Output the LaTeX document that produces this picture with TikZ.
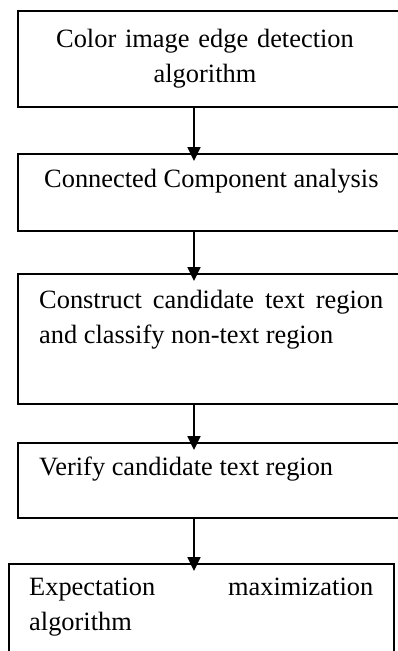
\documentclass[tikz,border=0pt]{standalone}
\usepackage{fontspec}
\setmainfont{Liberation Serif}
\usetikzlibrary{arrows.meta,positioning}

\begin{document}
\begin{tikzpicture}[x=1pt,y=-1pt,font=\fontsize{26.4}{35}\selectfont,
  stage/.style={draw,line width=1.8pt,minimum width=385pt,anchor=north west,inner sep=0pt},
  stagetext/.style={text width=344pt,inner sep=0pt,anchor=base west,align=justify},
  flow/.style={line width=1.8pt,-{Triangle[width=13pt,length=14pt]},shorten >=-8pt}]
\clip (0,0) rectangle (398,651);
\coordinate (spine) at (194,0);
% stages of the pipeline
\node[stage,minimum height=96pt] (edge) at (17,10) {};
\node[stage,minimum height=77pt] (cca) at (17,153) {};
\node[stage,minimum height=130pt] (cand) at (17,273) {};
\node[stage,minimum height=75pt] (verify) at (17,442) {};
\node[stage,minimum height=120pt] (em) at (8,563) {};
% labels
\node[stagetext,align=center,anchor=base] (edgetext) at (205,47) {Color image edge detection\\algorithm};
\node[stagetext] (ccatext) at (44,187) {Connected Component analysis};
\node[stagetext] (candtext) at (39,308) {Construct candidate text region\linebreak and classify non-text region};
\node[stagetext] (verifytext) at (39,475) {Verify candidate text region};
\node[stagetext] (emtext) at (29,595) {Expectation maximization\linebreak algorithm};
% arrows
\draw[flow] (edge.south -| spine) -- (cca.north -| spine);
\draw[flow] (cca.south -| spine) -- (cand.north -| spine);
\draw[flow] (cand.south -| spine) -- (verify.north -| spine);
\draw[flow] (verify.south -| spine) -- (em.north -| spine);
\end{tikzpicture}
\end{document}
